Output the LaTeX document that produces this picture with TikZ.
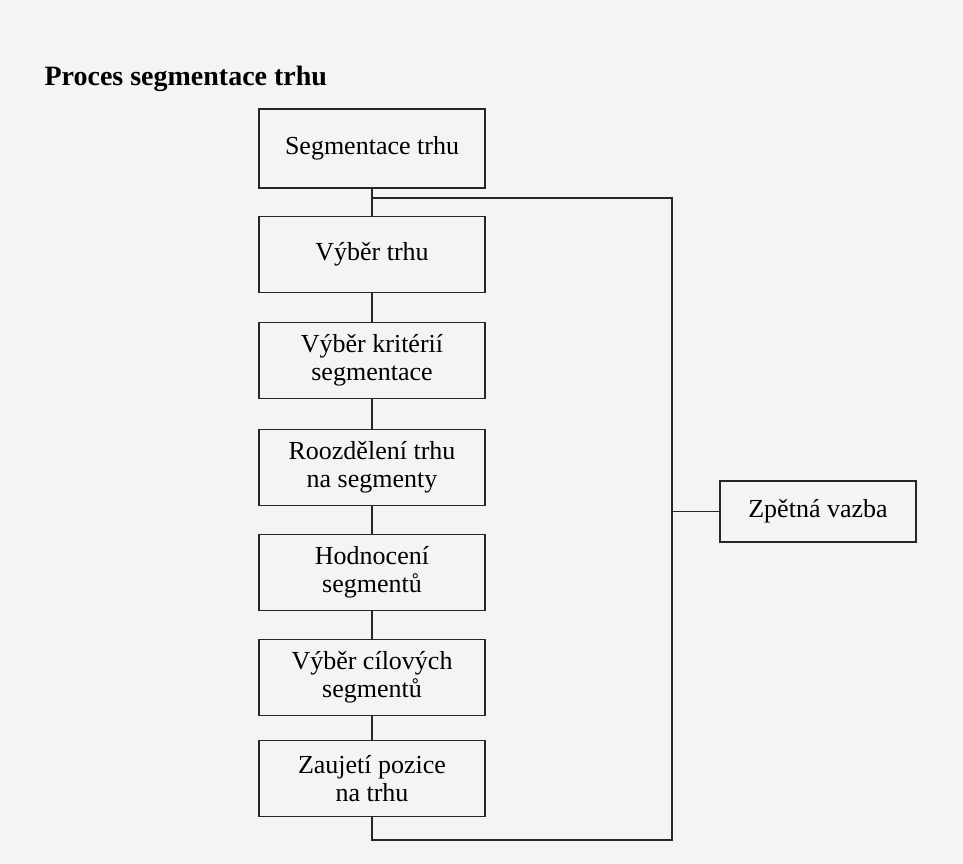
\documentclass[tikz,border=0pt]{standalone}
\usepackage{fontspec}
\setmainfont{Liberation Serif}
\begin{document}
\begin{tikzpicture}[x=1pt,y=-1pt,
  stepbox/.style={draw=black!85, line width=1.1pt, minimum width=226pt, minimum height=76pt,
    align=center, font=\fontsize{26}{28}\selectfont, inner sep=0pt},
  link/.style={draw=black!85, line width=1.1pt}]
\definecolor{paper}{RGB}{244,244,244}
\fill[paper] (0,0) rectangle (963,864);
\useasboundingbox (0,0) rectangle (963,864);
\node[anchor=base west, font=\fontsize{28}{32}\selectfont\bfseries] (title) at (41,86) {Proces segmentace trhu};
\node[stepbox, minimum height=79pt, fill=paper] (b1) at (372,148.5) {Segmentace trhu};
\node[stepbox, fill=paper] (b2) at (372,254.5) {Výběr trhu};
\node[stepbox, fill=paper] (b3) at (372,360.5) {Výběr kritérií\\segmentace};
\node[stepbox, fill=paper] (b4) at (372,467.5) {Roozdělení trhu\\na segmenty};
\node[stepbox, fill=paper] (b5) at (372,572.5) {Hodnocení\\segmentů};
\node[stepbox, fill=paper] (b6) at (372,677.5) {Výběr cílových\\segmentů};
\node[stepbox, fill=paper] (b7) at (372,778.5) {Zaujetí pozice\\na trhu};
\node[stepbox, fill=paper, minimum width=196pt, minimum height=61pt] (fb) at (818,511.5) {Zpětná vazba};
\coordinate (j) at (372,198);
\coordinate (tr) at (672,198);
\coordinate (br) at (672,840);
\coordinate (bl) at (372,840);
\coordinate (m) at (672,511.5);
\draw[link] (b1) -- (b2);
\draw[link] (b2) -- (b3);
\draw[link] (b3) -- (b4);
\draw[link] (b4) -- (b5);
\draw[link] (b5) -- (b6);
\draw[link] (b6) -- (b7);
\draw[link] (j) -- (tr) -- (br) -- (bl) -- (b7.south);
\draw[link] (m) -- (fb.west);
\end{tikzpicture}
\end{document}
